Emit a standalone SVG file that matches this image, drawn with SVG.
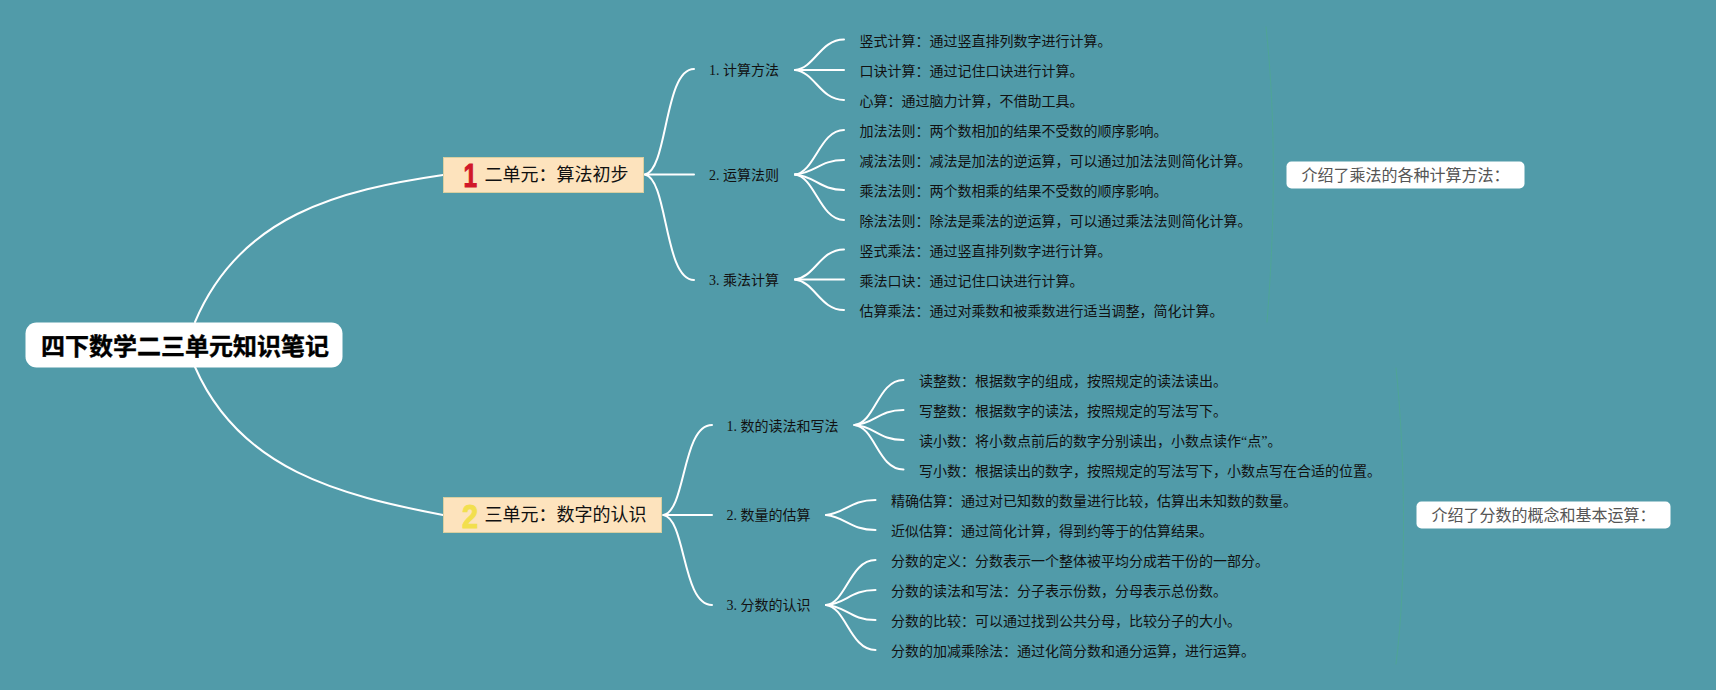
<svg xmlns="http://www.w3.org/2000/svg" width="1716" height="690" viewBox="0 0 1716 690">
<style>
text{font-family:"Liberation Serif","Noto Sans CJK SC",serif;dominant-baseline:central;fill:#111}
.root{font-family:"Liberation Sans","Noto Sans CJK SC",sans-serif;font-size:24px;font-weight:700;fill:#000;stroke:#000;stroke-width:.4px}
.main{font-family:"Liberation Sans","Noto Sans CJK SC",sans-serif;font-size:18px}
.l2,.leaf{font-size:14px}
.note{font-family:"Liberation Sans","Noto Sans CJK SC",sans-serif;font-size:16px;fill:#555}
.digit{font-family:"Liberation Sans",sans-serif;font-size:34px;font-weight:700;stroke-width:1px;dominant-baseline:auto}
.box{fill:#fde3bd;stroke:#d9cfa0;stroke-width:1}
.wh{fill:#fff}
#connectors path{fill:none;stroke:#fff;stroke-width:2;stroke-linecap:round}
#connectors path.sum{stroke:#4fa596;stroke-width:1}
</style>
<rect width="1716" height="690" fill="#519ba9"/>
<g id="connectors">
<path d="M195 322C240 215 340 190 443 175"/>
<path d="M195 367C240 470 340 495 443 515"/>
<path d="M645 174.500C668 170 664 69 694 69"/>
<path d="M645 174.500H694"/>
<path d="M645 174.500C668 179 664 280 694 280"/>
<path d="M795 70C815 68 820 39.500 844 39.500"/>
<path d="M795 70H844"/>
<path d="M795 70C815 72 820 100 844 100"/>
<path d="M795 174.500C815 172 820 130 844 130"/>
<path d="M795 174.500C815 173 820 160 844 160"/>
<path d="M795 174.500C815 176 820 190 844 190"/>
<path d="M795 174.500C815 177 820 220 844 220"/>
<path d="M795 279.500C815 277 820 249.500 844 249.500"/>
<path d="M795 279.500H844"/>
<path d="M795 279.500C815 282 820 310 844 310"/>
<path d="M663.500 515C686 511 682 425 712 425"/>
<path d="M663.500 515H712"/>
<path d="M663.500 515C686 519 682 605 712 605"/>
<path d="M854.500 425C875 423 878 380 903.500 380"/>
<path d="M854.500 425C875 424 878 410 903.500 410"/>
<path d="M854.500 425C875 426 878 440 903.500 440"/>
<path d="M854.500 425C875 427 878 469.500 903.500 469.500"/>
<path d="M826 515C846 513 850 500 875.500 500"/>
<path d="M826 515C846 517 850 530 875.500 530"/>
<path d="M826 605C846 603 850 560 875.500 560"/>
<path d="M826 605C846 604 850 590 875.500 590"/>
<path d="M826 605C846 606 850 620 875.500 620"/>
<path d="M826 605C846 607 850 650 875.500 650"/>
<path class="sum" d="M1266 27C1274 100 1277 200 1267 322"/>
<path class="sum" d="M1396 368C1405 450 1407 580 1396 664"/>
</g>
<g id="root"><rect class="wh" x="25.500" y="322.500" width="317" height="45" rx="11"/><text class="root" x="41" y="346.500">四下数学二三单元知识笔记</text></g>
<g id="unit1"><rect class="box" x="443.500" y="157.500" width="200" height="35"/><text class="digit" transform="translate(463.500 186.700) scale(.72 1)" style="fill:#d1182a;stroke:#d1182a">1</text><text class="main" x="484.500" y="175">二单元&#xFF1A;算法初步</text></g>
<g id="unit2"><rect class="box" x="443.500" y="497.500" width="218" height="35"/><text class="digit" transform="translate(462 527.500) scale(.85 1)" style="fill:#f2df4e;stroke:#f2df4e">2</text><text class="main" x="484.500" y="515">三单元&#xFF1A;数字的认识</text></g>
<g id="u1-a"><text class="l2" x="709" y="70.500">1. 计算方法</text></g>
<g id="u1-b"><text class="l2" x="709" y="175.500">2. 运算法则</text></g>
<g id="u1-c"><text class="l2" x="709" y="280.500">3. 乘法计算</text></g>
<g id="u2-a"><text class="l2" x="726.500" y="426">1. 数的读法和写法</text></g>
<g id="u2-b"><text class="l2" x="726.500" y="515.500">2. 数量的估算</text></g>
<g id="u2-c"><text class="l2" x="726.500" y="605.500">3. 分数的认识</text></g>
<g id="leaf1"><text class="leaf" x="859.500" y="41">竖式计算&#xFF1A;通过竖直排列数字进行计算。</text></g>
<g id="leaf2"><text class="leaf" x="859.500" y="71">口诀计算&#xFF1A;通过记住口诀进行计算。</text></g>
<g id="leaf3"><text class="leaf" x="859.500" y="101">心算&#xFF1A;通过脑力计算&#xFF0C;不借助工具。</text></g>
<g id="leaf4"><text class="leaf" x="859.500" y="131">加法法则&#xFF1A;两个数相加的结果不受数的顺序影响。</text></g>
<g id="leaf5"><text class="leaf" x="859.500" y="161">减法法则&#xFF1A;减法是加法的逆运算&#xFF0C;可以通过加法法则简化计算。</text></g>
<g id="leaf6"><text class="leaf" x="859.500" y="191">乘法法则&#xFF1A;两个数相乘的结果不受数的顺序影响。</text></g>
<g id="leaf7"><text class="leaf" x="859.500" y="221">除法法则&#xFF1A;除法是乘法的逆运算&#xFF0C;可以通过乘法法则简化计算。</text></g>
<g id="leaf8"><text class="leaf" x="859.500" y="251">竖式乘法&#xFF1A;通过竖直排列数字进行计算。</text></g>
<g id="leaf9"><text class="leaf" x="859.500" y="281">乘法口诀&#xFF1A;通过记住口诀进行计算。</text></g>
<g id="leaf10"><text class="leaf" x="859.500" y="311">估算乘法&#xFF1A;通过对乘数和被乘数进行适当调整&#xFF0C;简化计算。</text></g>
<g id="leaf11"><text class="leaf" x="919" y="381">读整数&#xFF1A;根据数字的组成&#xFF0C;按照规定的读法读出。</text></g>
<g id="leaf12"><text class="leaf" x="919" y="411">写整数&#xFF1A;根据数字的读法&#xFF0C;按照规定的写法写下。</text></g>
<g id="leaf13"><text class="leaf" x="919" y="441">读小数&#xFF1A;将小数点前后的数字分别读出&#xFF0C;小数点读作“点”。</text></g>
<g id="leaf14"><text class="leaf" x="919" y="471">写小数&#xFF1A;根据读出的数字&#xFF0C;按照规定的写法写下&#xFF0C;小数点写在合适的位置。</text></g>
<g id="leaf15"><text class="leaf" x="891" y="501">精确估算&#xFF1A;通过对已知数的数量进行比较&#xFF0C;估算出未知数的数量。</text></g>
<g id="leaf16"><text class="leaf" x="891" y="531">近似估算&#xFF1A;通过简化计算&#xFF0C;得到约等于的估算结果。</text></g>
<g id="leaf17"><text class="leaf" x="891" y="561">分数的定义&#xFF1A;分数表示一个整体被平均分成若干份的一部分。</text></g>
<g id="leaf18"><text class="leaf" x="891" y="591">分数的读法和写法&#xFF1A;分子表示份数&#xFF0C;分母表示总份数。</text></g>
<g id="leaf19"><text class="leaf" x="891" y="621">分数的比较&#xFF1A;可以通过找到公共分母&#xFF0C;比较分子的大小。</text></g>
<g id="leaf20"><text class="leaf" x="891" y="651">分数的加减乘除法&#xFF1A;通过化简分数和通分运算&#xFF0C;进行运算。</text></g>
<g id="note1"><rect class="wh" x="1286.500" y="161.500" width="238" height="27" rx="5"/><text class="note" x="1301.500" y="175">介绍了乘法的各种计算方法&#xFF1A;</text></g>
<g id="note2"><rect class="wh" x="1416.500" y="501.500" width="254" height="27" rx="5"/><text class="note" x="1431.500" y="515">介绍了分数的概念和基本运算&#xFF1A;</text></g>
</svg>
